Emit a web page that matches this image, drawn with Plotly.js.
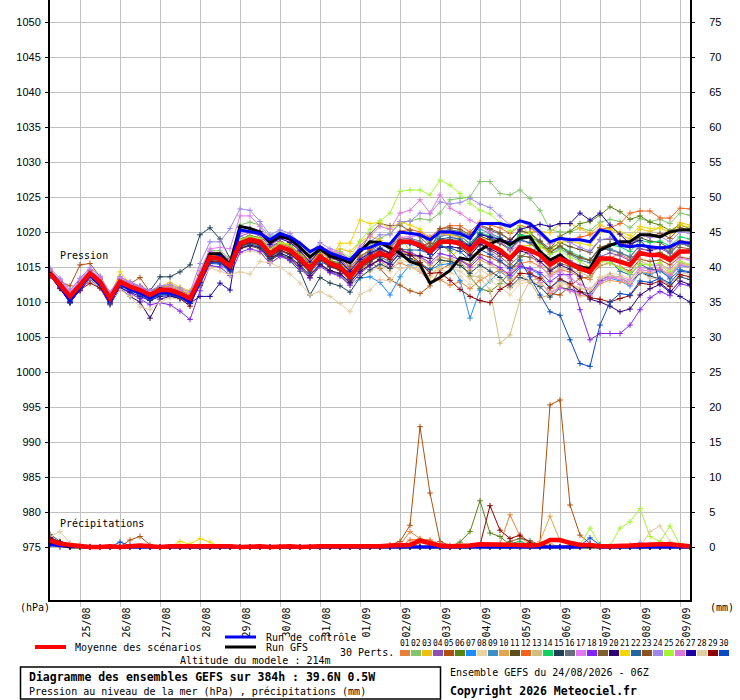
<!DOCTYPE html>
<html><head><meta charset="utf-8">
<script src="https://cdn.plot.ly/plotly-3.0.1.min.js"></script>
<style>html,body{margin:0;padding:0;background:#fff}#chart{width:740px;height:700px}</style>
</head><body><div id="chart"></div>
<script>
// ---------- DATA ----------
const hours = [0,6,12,18,24,30,36,42,48,54,60,66,72,78,84,90,96,102,108,114,120,126,132,138,144,150,156,162,168,174,180,186,192,198,204,210,216,222,228,234,240,246,252,258,264,270,276,282,288,294,300,306,312,318,324,330,336,342,348,354,360,366,372,378,384];
const dayTicks = [18,42,66,90,114,138,162,186,210,234,258,282,306,330,354,378];
const dayLabels = ['25/08','26/08','27/08','28/08','29/08','30/08','31/08','01/09','02/09','03/09','04/09','05/09','06/09','07/09','08/09','09/09'];
const pressureTicks = [975,980,985,990,995,1000,1005,1010,1015,1020,1025,1030,1035,1040,1045,1050];
const precipTicks = [0,5,10,15,20,25,30,35,40,45,50,55,60,65,70,75];
const memberLabels = ['01','02','03','04','05','06','07','08','09','10','11','12','13','14','15','16','17','18','19','20','21','22','23','24','25','26','27','28','29','30'];
const memberColors = ['#E8803A','#84C46A','#F0C010','#8E50B0','#B0500E','#5A8412','#1E8CFF','#EAD4A4','#3E90C0','#E4A650','#5E4E1E','#F2641E','#D2BE7E','#10D060','#204058','#64707C','#E478F4','#8424F4','#7E6030','#300070','#F2D800','#2464A0','#8E5220','#9E88F0','#A4F434','#DC78DC','#1C00A0','#E2CCA2','#900000','#0848C4'];

const pressMean = [1014.1,1012.5,1010.8,1012.4,1014.1,1012.9,1010.5,1012.9,1012.2,1011.7,1011.0,1011.7,1011.7,
1011.2,1010.5,1013.4,1016.4,1016.2,1015.1,1018.4,1018.9,1018.6,1016.9,1017.9,1017.4,1016.2,
1014.8,1016.5,1015.5,1015.0,1013.6,1015.3,1016.3,1017.0,1016.5,1018.6,1018.6,1018.1,1017.2,
1018.6,1018.6,1018.4,1017.4,1018.9,1018.1,1017.4,1016.2,1017.8,1017.4,1016.7,1015.3,1016.2,
1015.5,1014.8,1014.3,1016.2,1016.2,1015.8,1015.3,1017.0,1016.7,1016.7,1016.0,1017.2,1017.2];
const pressControl = [1014.0,1012.2,1010.2,1012.0,1013.8,1012.6,1010.0,1012.6,1011.8,1011.3,1010.6,1011.4,1011.3,
1010.9,1010.0,1013.0,1016.2,1016.5,1014.6,1020.3,1020.0,1019.8,1018.9,1019.8,1019.3,1018.4,
1017.2,1017.9,1017.0,1016.5,1016.0,1017.5,1017.8,1018.4,1018.3,1020.0,1019.8,1019.6,1018.9,
1020.0,1020.0,1019.8,1019.1,1021.2,1021.2,1021.2,1020.8,1021.6,1021.2,1020.0,1018.6,1019.1,
1018.9,1018.9,1018.6,1020.3,1020.0,1018.1,1017.9,1018.1,1017.9,1017.7,1017.9,1018.6,1018.4];
const pressGFS = [1014.2,1012.6,1010.7,1012.5,1014.0,1012.9,1010.3,1012.8,1012.0,1011.6,1010.7,1011.9,1011.5,
1011.0,1010.2,1013.6,1016.9,1016.9,1015.4,1020.8,1020.5,1020.0,1018.5,1019.4,1019.0,1017.8,
1016.4,1017.6,1016.6,1016.2,1015.6,1017.2,1018.6,1018.5,1017.7,1017.0,1015.8,1015.3,1012.7,
1013.5,1014.5,1016.3,1016.0,1017.4,1018.3,1018.9,1018.2,1019.1,1019.3,1017.2,1016.0,1016.7,
1015.5,1015.0,1014.8,1017.4,1018.1,1018.6,1018.6,1019.6,1019.6,1019.3,1020.0,1020.3,1020.3];

const p01 = [1014.4,1012.8,1011.1,1012.8,1014.4,1013.2,1010.9,1013.1,1012.6,1011.9,1011.3,1012.0,1012.1,
1011.6,1010.9,1013.9,1016.9,1016.8,1015.6,1018.9,1019.2,1018.8,1017.2,1018.1,1017.6,1016.7,
1015.1,1016.4,1015.2,1014.6,1013.0,1014.6,1015.4,1015.9,1014.8,1015.6,1015.0,1014.4,1012.8,
1013.2,1012.4,1012.9,1011.9,1013.1,1013.9,1014.6,1013.7,1015.5,1015.8,1015.1,1013.9,1014.6,
1014.3,1013.6,1013.2,1015.7,1016.3,1016.9,1016.0,1017.6,1017.4,1017.9,1017.2,1018.8,1018.6];
const p02 = [1014.5,1013.0,1011.3,1012.9,1014.6,1013.4,1011.0,1013.3,1012.6,1012.2,1011.5,1012.2,1012.3,
1011.8,1011.1,1014.3,1017.4,1017.3,1016.2,1021.0,1021.4,1021.0,1019.3,1020.0,1019.2,1018.0,
1016.5,1017.9,1017.1,1016.8,1015.7,1017.4,1018.3,1019.1,1019.8,1021.2,1021.6,1021.9,1021.7,
1022.7,1024.6,1024.8,1025.0,1027.2,1027.2,1025.5,1025.3,1026.0,1024.8,1023.1,1020.3,1020.0,
1020.0,1020.6,1020.2,1021.4,1021.8,1021.5,1020.6,1021.9,1021.5,1021.8,1021.2,1022.7,1022.4];
const p03 = [1013.8,1012.3,1010.6,1012.3,1013.9,1012.7,1010.4,1012.7,1012.4,1012.0,1011.3,1012.2,1012.8,
1012.1,1011.6,1013.9,1016.0,1015.8,1014.8,1018.0,1018.5,1018.0,1016.4,1017.5,1017.3,1016.4,
1015.4,1017.3,1016.8,1017.6,1017.2,1018.6,1019.4,1018.8,1017.9,1019.3,1017.3,1014.6,1013.6,
1015.4,1016.2,1017.8,1017.0,1018.9,1019.0,1018.6,1017.3,1019.5,1020.0,1020.1,1019.9,1021.2,
1021.2,1020.5,1019.8,1021.0,1020.4,1019.6,1019.0,1020.4,1020.1,1020.6,1019.8,1021.3,1021.0];
const p04 = [1014.6,1013.1,1011.3,1012.9,1014.4,1013.2,1010.8,1013.1,1012.5,1011.8,1011.2,1011.8,1011.9,
1011.5,1010.9,1013.5,1016.8,1016.6,1015.5,1019.4,1019.9,1019.5,1017.9,1018.6,1018.1,1016.9,
1015.6,1017.3,1016.4,1016.0,1014.9,1016.6,1017.3,1018.2,1017.6,1019.2,1019.0,1018.4,1017.8,
1019.8,1019.7,1019.4,1018.4,1019.9,1019.2,1018.5,1017.4,1018.8,1018.4,1017.3,1015.8,1016.8,
1015.9,1015.2,1014.8,1016.5,1017.0,1016.6,1015.9,1017.6,1017.3,1017.7,1016.9,1018.4,1018.0];
const p05 = [1014.0,1012.9,1012.3,1015.3,1015.5,1013.6,1011.0,1012.9,1012.6,1013.5,1011.4,1012.0,1012.3,
1011.8,1010.9,1013.6,1016.2,1015.8,1014.9,1017.9,1018.4,1017.9,1016.2,1017.3,1016.8,1015.9,
1014.6,1016.2,1015.3,1014.9,1013.4,1014.9,1015.7,1014.8,1013.2,1012.4,1011.6,1011.2,1012.3,
1014.6,1015.4,1016.0,1015.3,1016.8,1016.4,1015.7,1014.9,1015.3,1014.2,1012.8,1011.2,1011.0,
1012.3,1013.4,1013.6,1015.2,1015.6,1015.0,1014.4,1016.1,1015.8,1016.0,1015.3,1016.4,1016.2];
const p06 = [1013.9,1012.2,1010.4,1012.1,1013.8,1012.6,1010.2,1012.6,1011.8,1011.3,1010.6,1011.4,1011.3,
1010.8,1010.0,1013.0,1016.0,1015.9,1014.7,1018.1,1018.6,1018.3,1016.6,1017.6,1017.2,1016.1,
1014.8,1016.7,1015.9,1015.6,1014.4,1016.4,1017.5,1018.4,1017.7,1019.8,1019.9,1019.6,1018.4,
1018.2,1017.3,1015.8,1013.6,1011.9,1011.5,1012.6,1014.2,1016.4,1017.3,1017.8,1017.6,1019.4,
1020.1,1021.2,1021.5,1022.4,1023.6,1022.9,1021.8,1022.3,1021.4,1021.0,1020.2,1021.0,1020.5];
const p07 = [1013.7,1012.0,1009.8,1011.9,1013.5,1012.2,1009.8,1012.3,1011.6,1011.1,1010.3,1011.0,1011.0,
1010.5,1009.8,1012.8,1015.5,1015.4,1014.3,1017.6,1018.2,1017.8,1016.0,1017.0,1016.4,1015.3,
1013.8,1015.5,1014.3,1013.8,1012.4,1013.4,1013.6,1012.8,1011.0,1013.6,1015.3,1015.3,1014.6,
1015.3,1015.5,1013.1,1007.7,1011.7,1013.0,1014.4,1013.3,1014.9,1014.7,1013.9,1012.0,1013.1,
1012.6,1011.4,1010.6,1012.9,1013.4,1013.0,1012.3,1014.2,1014.0,1014.4,1013.6,1015.2,1015.0];
const p08 = [1013.8,1012.4,1010.9,1012.2,1013.7,1012.4,1010.3,1012.3,1011.0,1010.6,1010.3,1011.1,1011.2,
1010.6,1009.8,1012.6,1015.1,1015.0,1014.2,1016.9,1017.3,1017.0,1015.6,1016.5,1016.0,1015.0,
1013.6,1015.0,1014.1,1013.6,1012.3,1013.8,1014.3,1015.1,1014.3,1016.0,1015.6,1014.8,1013.6,
1014.6,1014.2,1013.7,1012.5,1013.8,1013.0,1012.2,1011.0,1012.6,1012.9,1012.6,1011.4,1012.6,
1012.4,1011.9,1011.6,1013.6,1014.1,1013.9,1013.3,1015.0,1014.6,1014.8,1014.1,1015.5,1015.2];
const p09 = [1014.2,1012.6,1010.9,1012.6,1014.3,1013.0,1010.7,1013.0,1012.3,1011.8,1011.1,1011.8,1011.8,
1011.3,1010.6,1013.8,1016.6,1016.4,1015.4,1019.0,1019.4,1019.1,1017.4,1018.5,1018.0,1016.8,
1015.4,1017.0,1016.2,1015.9,1014.5,1016.2,1017.2,1017.8,1017.0,1018.4,1018.6,1018.2,1017.4,
1019.4,1019.6,1019.6,1019.0,1020.4,1019.8,1019.2,1018.2,1019.6,1019.4,1018.4,1016.8,1017.6,
1016.8,1016.0,1015.6,1017.4,1017.6,1017.1,1016.5,1018.1,1017.7,1017.9,1017.1,1018.4,1018.0];
const p10 = [1013.9,1012.3,1010.5,1012.2,1013.9,1012.6,1010.1,1012.5,1011.7,1011.3,1010.4,1011.3,1011.2,
1010.6,1009.9,1012.9,1015.8,1015.7,1014.5,1017.8,1018.3,1018.0,1016.3,1017.2,1016.8,1015.6,
1014.2,1015.9,1015.0,1014.5,1013.1,1014.6,1015.4,1016.2,1015.4,1017.0,1016.9,1016.2,1015.2,
1016.4,1016.1,1015.7,1014.5,1016.0,1015.4,1014.5,1013.1,1014.1,1012.9,1010.6,1011.0,1012.3,
1011.6,1010.9,1010.8,1012.6,1013.1,1012.9,1012.6,1014.4,1014.1,1014.6,1013.9,1015.6,1015.3];
const p11 = [1014.0,1012.4,1010.6,1012.3,1014.0,1012.8,1010.3,1012.8,1012.1,1011.6,1010.9,1011.5,1011.5,
1011.0,1010.3,1013.1,1016.0,1015.8,1014.7,1017.6,1018.0,1017.6,1015.9,1016.8,1016.2,1015.0,
1013.5,1015.3,1014.4,1014.0,1012.7,1014.6,1015.8,1016.6,1016.2,1018.4,1018.6,1018.2,1017.3,
1018.8,1018.9,1018.8,1017.9,1019.4,1018.9,1018.4,1017.5,1019.3,1019.2,1018.7,1017.6,1018.5,
1017.9,1017.5,1017.1,1018.9,1019.0,1018.6,1017.9,1019.2,1018.7,1018.5,1017.6,1018.6,1018.3];
const p12 = [1014.3,1012.7,1011.0,1012.6,1014.2,1013.1,1010.7,1013.1,1012.4,1011.9,1011.2,1011.9,1011.9,
1011.4,1010.7,1013.6,1016.5,1016.4,1015.3,1018.8,1019.2,1018.9,1017.3,1018.3,1017.9,1016.8,
1015.4,1017.1,1016.3,1015.9,1014.6,1016.4,1017.5,1018.4,1018.0,1020.1,1020.4,1020.0,1019.3,
1020.4,1020.9,1020.9,1020.0,1021.4,1021.0,1020.6,1019.8,1020.9,1020.6,1019.6,1018.3,1019.1,
1018.9,1019.3,1019.6,1020.4,1020.6,1021.2,1022.7,1023.0,1023.0,1022.0,1022.0,1023.4,1023.3];
const p13 = [1014.0,1012.5,1010.9,1012.3,1013.9,1012.8,1010.6,1012.8,1012.1,1011.5,1010.8,1011.5,1011.6,
1011.1,1010.4,1013.2,1016.1,1015.9,1014.9,1018.1,1018.6,1018.3,1016.7,1017.6,1017.1,1016.0,
1014.7,1016.3,1015.4,1015.1,1013.8,1015.5,1016.3,1016.8,1016.0,1017.3,1017.0,1016.4,1015.3,
1016.5,1016.1,1015.3,1013.8,1013.5,1011.7,1004.1,1005.3,1010.3,1013.1,1013.3,1014.1,1014.8,
1014.6,1014.2,1013.6,1015.3,1015.5,1015.0,1014.2,1015.8,1015.3,1015.2,1014.2,1015.6,1015.0];
const p14 = [1013.9,1012.1,1010.2,1012.0,1013.8,1012.6,1010.1,1012.4,1011.8,1011.3,1010.6,1011.3,1011.3,
1010.8,1010.1,1013.1,1016.2,1016.0,1014.9,1018.3,1018.7,1018.4,1016.9,1017.8,1017.3,1016.1,
1014.9,1016.6,1015.7,1015.3,1014.0,1015.8,1016.9,1017.6,1016.9,1018.2,1018.5,1018.1,1017.6,
1019.8,1020.0,1019.6,1018.2,1019.9,1019.5,1019.0,1018.0,1019.6,1019.3,1018.6,1017.2,1018.0,
1017.2,1016.5,1016.0,1017.8,1018.2,1017.9,1017.2,1018.8,1018.5,1018.7,1018.0,1019.3,1019.0];
const p15 = [1014.0,1012.6,1011.2,1012.8,1014.0,1012.9,1010.9,1012.8,1012.4,1012.1,1011.6,1013.6,1013.6,
1014.3,1015.3,1019.6,1020.6,1019.0,1016.2,1018.6,1018.7,1018.2,1016.2,1016.8,1015.9,1014.4,
1011.0,1013.5,1012.7,1012.3,1011.4,1013.5,1014.6,1015.4,1014.8,1016.5,1016.2,1015.6,1014.6,
1016.0,1015.8,1015.2,1014.1,1015.3,1014.4,1013.5,1012.1,1013.5,1013.0,1012.2,1010.7,1012.0,
1011.8,1011.4,1011.2,1013.1,1013.8,1013.5,1012.7,1014.2,1013.7,1013.3,1012.4,1013.6,1013.2];
const p16 = [1014.1,1012.4,1010.6,1012.3,1014.0,1012.8,1010.4,1012.8,1012.0,1011.6,1010.9,1011.6,1011.6,
1011.1,1010.4,1013.3,1016.3,1016.1,1015.0,1018.5,1019.0,1018.7,1017.1,1018.0,1017.5,1016.4,
1015.0,1016.7,1015.8,1015.3,1013.9,1015.7,1016.8,1017.6,1017.0,1018.9,1019.1,1018.7,1017.6,
1020.2,1020.3,1020.1,1019.4,1020.8,1020.3,1019.7,1018.9,1020.1,1019.9,1018.7,1017.1,1017.9,
1017.0,1016.3,1015.9,1017.7,1017.4,1017.0,1016.4,1018.1,1017.7,1017.9,1017.1,1018.3,1018.0];
const p17 = [1014.6,1013.2,1011.6,1013.3,1014.6,1013.5,1011.2,1013.6,1012.9,1012.3,1011.6,1012.3,1012.3,
1011.8,1011.1,1014.5,1017.6,1017.8,1017.6,1022.3,1022.3,1020.8,1018.8,1019.4,1018.7,1017.4,
1015.8,1017.4,1016.5,1016.0,1014.4,1016.0,1016.8,1017.4,1017.0,1019.2,1019.3,1019.5,1018.9,
1019.7,1019.5,1018.9,1017.6,1018.6,1017.2,1016.0,1014.3,1015.2,1014.5,1012.8,1011.4,1012.0,
1011.6,1011.2,1010.9,1012.8,1013.4,1013.6,1013.1,1014.9,1014.8,1015.4,1014.7,1016.2,1016.0];
const p18 = [1013.8,1012.0,1010.0,1011.9,1013.6,1012.3,1009.9,1012.0,1011.3,1010.5,1009.6,1009.9,1009.6,
1008.7,1007.5,1011.6,1015.2,1015.0,1013.8,1017.1,1017.6,1017.2,1015.5,1016.5,1016.0,1014.8,
1013.4,1015.1,1014.2,1013.7,1012.4,1014.1,1015.2,1016.0,1015.3,1017.2,1017.1,1016.5,1015.6,
1016.9,1016.6,1016.0,1015.0,1016.4,1015.7,1014.9,1013.8,1015.1,1014.8,1014.2,1012.9,1013.9,
1013.9,1008.9,1004.6,1005.5,1005.5,1005.5,1006.7,1008.9,1010.6,1011.5,1010.9,1012.6,1012.3];
const p19 = [1014.2,1012.7,1011.0,1012.6,1014.2,1013.0,1010.6,1013.0,1012.3,1011.9,1011.2,1011.9,1011.9,
1011.5,1010.8,1013.8,1016.8,1016.6,1015.5,1019.0,1019.5,1019.2,1017.6,1018.6,1018.1,1017.0,
1015.6,1017.4,1016.6,1016.3,1015.1,1017.3,1019.7,1021.2,1020.9,1021.0,1020.2,1019.3,1017.9,
1019.0,1018.6,1018.1,1016.8,1018.2,1017.4,1016.5,1015.3,1016.6,1016.4,1015.8,1014.6,1015.5,
1015.1,1014.5,1014.1,1015.8,1016.0,1015.9,1015.3,1017.0,1016.8,1017.1,1016.4,1017.8,1017.6];
const p20 = [1013.7,1012.0,1010.0,1011.6,1013.3,1012.0,1009.6,1011.9,1010.8,1010.0,1007.7,1010.4,1010.8,
1010.5,1009.9,1012.4,1015.6,1015.6,1014.6,1017.7,1018.1,1017.8,1016.2,1017.0,1016.4,1015.2,
1013.8,1015.4,1014.5,1014.1,1012.8,1014.4,1015.3,1016.1,1015.4,1017.0,1016.6,1016.6,1016.2,
1017.8,1017.9,1017.7,1016.6,1018.3,1017.6,1016.9,1015.9,1017.3,1016.9,1015.8,1014.4,1015.3,
1014.7,1013.7,1010.4,1010.0,1009.4,1008.6,1009.0,1011.0,1011.9,1012.5,1011.4,1013.0,1012.5];
const p21 = [1014.2,1012.6,1011.0,1012.5,1014.3,1013.0,1010.6,1014.3,1012.6,1012.0,1011.4,1012.0,1012.3,
1011.8,1011.2,1013.7,1016.6,1016.4,1015.3,1018.7,1019.1,1018.8,1017.2,1018.3,1018.4,1018.0,
1015.5,1017.2,1016.0,1018.4,1018.4,1021.7,1021.2,1021.4,1020.4,1021.4,1021.0,1020.4,1019.0,
1019.8,1019.6,1019.2,1017.8,1019.0,1018.4,1017.6,1016.6,1018.0,1018.1,1017.9,1017.2,1018.6,
1018.6,1018.4,1018.1,1020.0,1020.4,1020.0,1019.5,1020.8,1020.5,1020.6,1019.9,1021.0,1020.7];
const p22 = [1013.9,1012.2,1010.4,1012.0,1013.8,1012.6,1010.2,1012.6,1011.9,1011.4,1010.7,1011.4,1011.4,
1010.9,1010.2,1013.2,1016.1,1015.9,1014.8,1017.9,1018.3,1018.0,1016.3,1017.3,1016.8,1015.7,
1014.2,1015.9,1015.0,1014.6,1013.2,1014.9,1015.9,1016.5,1015.7,1017.5,1017.4,1017.4,1016.9,
1019.0,1019.2,1019.0,1018.0,1019.8,1019.2,1018.6,1017.6,1018.9,1018.5,1017.1,1015.6,1016.6,
1015.6,1015.0,1014.8,1016.4,1015.9,1014.4,1013.9,1015.4,1014.7,1014.6,1013.3,1014.6,1014.3];
const p23 = [1014.4,1012.9,1011.3,1012.8,1014.5,1013.3,1010.9,1013.3,1012.7,1012.2,1011.5,1012.1,1012.1,
1011.6,1010.9,1013.8,1016.6,1016.3,1015.2,1018.6,1019.1,1018.8,1017.1,1018.1,1017.5,1016.3,
1014.9,1016.7,1015.8,1015.4,1014.1,1015.8,1016.8,1017.5,1016.9,1018.8,1018.6,1018.0,1018.4,
1020.5,1020.6,1020.4,1019.6,1021.0,1020.5,1019.9,1018.9,1020.2,1019.8,1018.6,1017.1,1018.0,
1016.9,1016.3,1016.0,1017.8,1018.3,1018.4,1017.8,1019.6,1019.4,1019.8,1019.1,1020.6,1020.3];
const p24 = [1014.8,1013.4,1011.7,1013.4,1014.9,1013.7,1011.4,1013.6,1012.8,1012.3,1011.6,1012.3,1012.5,
1012.0,1011.4,1015.5,1018.6,1018.6,1020.5,1023.3,1023.1,1021.5,1019.6,1020.3,1019.8,1018.4,
1017.0,1018.5,1017.6,1017.2,1016.0,1017.7,1018.7,1019.6,1019.6,1021.5,1021.5,1022.7,1022.6,
1024.3,1024.0,1024.2,1024.8,1024.0,1023.5,1022.3,1021.0,1021.6,1020.8,1019.6,1018.4,1019.0,
1018.5,1017.8,1017.3,1018.9,1019.1,1018.7,1018.0,1019.6,1019.2,1019.4,1018.6,1020.0,1019.8];
const p25 = [1014.1,1012.6,1010.9,1012.6,1014.2,1013.0,1010.6,1013.0,1012.3,1011.8,1011.2,1011.8,1011.9,
1011.4,1010.7,1013.6,1016.6,1016.5,1015.4,1018.9,1019.4,1019.1,1017.5,1018.5,1018.1,1017.0,
1015.7,1017.6,1017.0,1017.2,1016.4,1018.7,1020.4,1021.6,1022.7,1025.8,1026.0,1026.0,1025.3,
1027.4,1026.7,1025.5,1024.1,1023.1,1022.6,1021.3,1020.1,1020.8,1019.8,1018.0,1016.8,1017.4,
1016.4,1015.8,1014.9,1015.9,1015.6,1014.8,1014.0,1015.4,1015.3,1015.6,1014.4,1015.8,1015.4];
const p26 = [1014.5,1013.0,1011.4,1013.0,1014.6,1013.4,1011.1,1013.4,1012.6,1012.1,1011.4,1012.0,1012.1,
1011.6,1010.9,1014.0,1017.2,1017.0,1016.1,1019.8,1020.0,1019.7,1018.0,1019.0,1018.6,1017.5,
1016.2,1017.9,1017.3,1017.0,1016.1,1018.0,1019.4,1020.8,1020.4,1022.7,1023.1,1024.6,1022.7,
1025.3,1023.4,1022.7,1021.7,1021.0,1019.9,1018.7,1017.4,1018.1,1016.8,1015.2,1013.6,1014.4,
1013.4,1012.5,1011.8,1013.2,1013.6,1013.2,1012.6,1014.6,1014.4,1014.7,1013.8,1015.3,1015.0];
const p27 = [1013.7,1012.0,1009.9,1011.8,1013.5,1012.3,1009.8,1012.1,1011.4,1010.8,1010.2,1010.8,1010.9,
1010.5,1009.8,1010.8,1010.8,1012.7,1011.7,1020.7,1020.5,1020.1,1018.2,1019.1,1018.5,1017.3,
1015.7,1017.4,1016.4,1015.9,1014.4,1016.1,1017.0,1017.6,1017.0,1018.6,1018.4,1017.8,1016.8,
1018.4,1018.5,1018.6,1018.0,1019.6,1019.3,1019.0,1018.6,1020.4,1020.8,1021.1,1020.8,1021.2,
1021.2,1022.7,1021.7,1022.7,1021.0,1019.7,1018.3,1018.8,1017.4,1012.7,1011.6,1010.8,1010.0];
const p28 = [1013.6,1012.1,1010.4,1011.8,1013.4,1012.0,1009.9,1011.8,1010.8,1009.3,1008.9,1010.0,1010.6,
1010.4,1010.0,1012.6,1014.9,1014.4,1013.9,1014.3,1014.0,1015.8,1015.6,1015.0,1014.0,1012.7,
1011.0,1011.5,1010.8,1009.8,1008.6,1011.1,1011.7,1013.2,1013.0,1014.8,1015.0,1014.5,1013.7,
1015.0,1014.9,1014.4,1013.3,1014.6,1013.8,1013.0,1011.9,1013.1,1013.0,1012.6,1011.6,1012.8,
1012.6,1012.0,1011.8,1013.5,1013.8,1013.5,1012.8,1014.3,1013.4,1013.3,1012.4,1014.2,1013.9];
const p29 = [1013.9,1011.9,1010.0,1011.7,1012.7,1012.0,1010.0,1012.4,1011.8,1011.2,1010.4,1011.1,1011.2,
1010.5,1009.4,1012.8,1015.8,1015.7,1014.6,1018.0,1018.5,1018.2,1016.5,1017.4,1016.9,1015.7,
1014.4,1016.1,1015.1,1014.6,1013.3,1015.0,1016.0,1016.7,1016.1,1017.6,1016.8,1015.6,1014.1,
1014.2,1013.1,1011.8,1010.8,1010.2,1009.9,1011.8,1012.6,1014.1,1014.0,1013.4,1012.0,1013.3,
1012.6,1011.5,1010.6,1010.4,1010.0,1010.5,1010.9,1012.7,1012.5,1013.0,1012.2,1013.9,1013.6];
const p30 = [1013.8,1012.1,1010.1,1011.9,1013.7,1012.4,1009.9,1012.4,1011.7,1011.1,1010.3,1011.1,1011.1,
1010.6,1009.8,1012.6,1015.6,1015.6,1014.4,1018.2,1018.7,1018.4,1016.7,1017.7,1017.2,1016.0,
1014.6,1016.3,1015.4,1014.9,1013.5,1015.2,1016.4,1017.2,1016.6,1018.4,1018.3,1017.8,1016.8,
1018.0,1017.7,1017.2,1016.0,1017.5,1016.8,1015.9,1014.8,1016.0,1013.6,1011.0,1008.6,1008.1,
1004.6,1001.2,1000.8,1006.7,1010.0,1011.2,1011.0,1013.0,1012.8,1013.4,1012.7,1014.4,1014.2];

const rainMean = [0.9,0.5,0.3,0.1,0,0,0.1,0,0.1,0.2,0.1,0,0.1,
0.1,0.1,0.2,0.1,0.1,0.1,0,0.1,0.1,0,0.1,0.1,0,
0.1,0.1,0.1,0.1,0,0,0.1,0.1,0.2,0.3,0.3,0.9,0.6,
0.2,0.1,0.1,0.2,0.4,0.4,0.3,0.4,0.3,0.2,0.3,1.0,1.0,
0.6,0.3,0.3,0.1,0.1,0.1,0.2,0.3,0.4,0.4,0.4,0.2,0.1];
const rainControl = [0.3,0.2,0.1,0,0,0,0,0,0,0,0,0,0, 0,0,0,0,0,0,0,0,0,0,0,0,0, 0,0,0,0,0,0,0,0,0,0,0,0,0, 0,0,0,0,0,0,0,0,0,0,0,0,0, 0,0,0.2,0,0,0,0,0,0,0,0,0,0];
const rainGFS = [0.5,0.2,0,0,0,0,0,0,0,0,0,0,0, 0,0,0,0,0,0,0,0,0,0,0,0,0, 0,0,0,0,0,0,0,0,0,0,0,0,0, 0,0,0,0,0,0,0,0,0,0,0,0,0, 0,0,0,0,0,0,0,0,0,0,0,0,0];
const r01 = [1.2,0.7,0.5,0.3,0.1,0,0,0,0,0,0,0,0, 0,0,0,0,0,0,0,0,0,0,0,0,0, 0,0,0,0,0,0,0,0,0,0.3,2.2,1.2,0.8, 0.2,0,0,0,0,0,0.5,4.6,1.5,0.3,0,0,0, 0,0,0,0,0,0,0,0,0,0,0,0,0];
const r02 = [0.5,0.2,0,0,0,0,0,0,0,0,0,0,0, 0,0,0,0,0,0,0,0,0,0,0,0,0, 0,0,0,0,0,0,0,0,0,0,0,0,0, 0,0,0,0,0,0,0,0,0,0,0,0,0, 0,0,0,0.2,0.1,0,0,0,0,0,0,0,0];
const r03 = [0.6,0.3,0.1,0,0,0,0,0,0,0,0,0,0, 0,0,0.3,0,0,0,0,0,0,0,0,0,0, 0,0,0,0,0,0,0,0,0,0,0,0,0, 0,0,0,0,0,0,0,0,0,0,0,0,0, 0,0,0,0,0,0,0,0,0,0,0,0,0];
const r04 = [0.3,0.1,0,0,0,0,0,0,0,0,0,0,0, 0,0,0,0,0,0,0,0,0,0,0,0,0, 0,0,0,0,0,0,0,0,0,0,0,0,0, 0,0,0,0,0,0,0,0,0,0,0,0,0, 0,0,0,0,0,0,0,0,0,0,0,0,0];
const r05 = [0.4,0.2,0,0,0,0,0,0,1.0,1.5,0.3,0,0, 0,0,0,0,0,0,0,0,0,0,0,0,0, 0,0,0,0,0,0,0,0,0.3,0.8,3.1,17.2,7.7, 0.8,0.2,0,0,0,0,0,0,0,0,0.5,20.3,21.0, 6.0,1.7,0.5,0,0,0,0,0,0,0,0,0,0];
const r06 = [0.8,0.4,0,0,0,0,0,0,0,0,0,0,0, 0,0,0,0,0,0,0,0,0,0,0,0,0, 0,0,0,0,0,0,0,0,0,0,0,0,0, 0,0,0.7,2.2,6.6,2.0,1.5,0.3,0,0,0,0,0, 0,0,0,0,0,0,0,0,0,0,0,0,0];
const r07 = [0.7,0.3,0,0,0,0,0,0,0,0,0,0,0, 0,0,0,0,0,0,0,0,0,0,0,0,0, 0,0,0,0,0,0,0,0,0,0,0,0,0, 0,0,0,0,0,0,0,0,0,0,0,0,0, 0,0,0,0,0,0,0,0,0,0,0,0,0];
const r08 = [1.0,0.5,0,0,0,0,0,0,0,0,0,0,0, 0,0,0,0,0,0,0,0,0,0,0,0,0, 0,0,0,0,0,0,0,0,0,0,0,0,0, 0,0,0,0,0,0,0,0,0,0,0,0,0, 0,0,0,0,0,0,0,0,0,0,0,0,0];
const r09 = [0.5,0.2,0,0,0,0,0,0,0,0,0,0,0, 0,0,0,0,0,0,0,0,0,0,0,0,0, 0,0,0,0,0,0,0,0,0,0,0,0,0, 0,0,0,0,0,0,0,0,0.3,0,0,0,0, 0,0,0,0,0,0,0,0,0,0,0,0,0];
const r10 = [0.9,0.4,0,0,0,0,0,0,0,0,0,0,0, 0,0,0,0,0,0,0,0,0,0,0,0,0, 0,0,0,0,0,0,0,0,0,0,0,0,0, 0,0,0,0,0,0,0,0,0,0,0.8,4.4,0.9, 0.3,0,0,0,0,0,0,0,0,0,0,0,0];
const r11 = [1.8,0.8,0.2,0,0,0,0,0,0,0,0,0,0, 0,0,0,0,0,0,0,0,0,0,0,0,0, 0,0,0,0,0,0,0,0,0,0,0,0,0, 0,0,0,0,0,0,0,0,0,0,0,0,0, 0,0,0,0,0,0,0,0,0,0,0,0,0];
const r12 = [0.6,0.3,0,0,0,0,0,0,0,0,0,0,0, 0,0,0,0,0,0,0,0,0,0,0,0,0, 0,0,0,0,0,0,0,0,0,0,1.0,1.1,1.0, 0.4,0,0,0,0,0,0,0,0,0,0,0,0, 0,0,0,0,0,0,0,0,0,0,0,0,0];
const r13 = [0.4,0,0,0,0,0,0,0,0,0,0,0,0, 0,0,0,0,0,0,0,0,0,0,0,0,0, 0,0,0,0,0,0,0,0,0,0,0,0,0, 0,0,0,0,0,0,0,0,0,0,0,0.5,0, 0,0,0,0,0,0,0,0,0,0,0,0,0];
const r14 = [0.6,0.2,0,0,0,0,0,0,0,0,0,0,0, 0,0,0,0,0,0,0,0,0,0,0,0,0, 0,0,0,0,0,0,0,0,0,0,0,0,0, 0,0,0,0,0,0,0,0.5,0.8,0.3,0,0,0, 0,0,0,0,0,0,0,0,0,0,0,0,0];
const r15 = [0.9,0.5,0,0,0,0,0,0,0,0,0,0,0, 0,0,0,0,0,0,0,0,0,0,0,0,0, 0,0,0,0,0,0,0,0,0,0,0,0,0, 0,0,0,0,0,0,0,0,0,0,0,0,0, 0,0,0,0,0,0,0,0,0,0,0,0,0];
const r16 = [0.5,0,0,0,0,0,0,0,0,0,0,0,0, 0,0,0,0,0,0,0,0,0,0,0,0,0, 0,0,0,0,0,0,0,0,0,0,0,0,0, 0,0,0,0,0,0,0,0,0,0,0,0,0, 0,0,0,0,0,0,0,0,0,0,0,0,0];
const r17 = [0.4,0.2,0,0,0,0,0,0,0,0,0,0,0, 0,0,0,0,0,0,0,0,0,0,0,0,0, 0,0,0,0,0,0,0,0,0,0,0,0,0, 0,0,0,0,0,0,0,0,0,0,0,0,0, 0,0,0,0,0,0,0,0,0,0,0,0,0];
const r18 = [0.7,0.3,0,0,0,0,0,0,0,0,0,0,0, 0,0,0,0,0,0,0,0,0,0,0,0,0, 0,0,0,0,0,0,0,0,0,0,0,0,0, 0,0,0,0,0,0,0,0,0,0,0,0,0, 0,0.3,0.5,0,0,0,0,0,0,0,0,0,0];
const r19 = [1.1,0.5,0,0,0,0,0,0,0,0,0,0,0, 0,0,0,0,0,0,0,0,0,0,0,0,0, 0,0,0,0,0,0,0,0,0,0,0,0,0, 0,0,0,0,0,0,0,0.8,1.2,0.9,0.3,0,0, 0,0,0,0,0,0,0,0,0,0,0,0,0];
const r20 = [1.4,0.6,0,0,0,0,0,0,0,0,0,0,0, 0,0,0,0,0,0,0,0,0,0,0,0,0, 0,0,0,0,0,0,0,0,0,0,0,0,0, 0,0,0,0,0,0,0,0,0,0,0,0,0, 0,0,0,0,0,0,0,0,0,0,0,0,0];
const r21 = [0.5,0,0,0,0,0,0,0,0,0,0,0,0, 0.8,0.4,1.2,0.7,0,0,0,0,0,0,0,0,0, 0,0,0,0,0,0,0,0,0,0,0,0,0, 0,0,0,0,0,0,0,0,0,0,0,0,0, 0,0,0,0,0,0,0,0,0,0,0,0,0];
const r22 = [0.6,0,0,0,0,0,0,0,0,0,0,0,0, 0,0,0,0,0,0,0,0,0,0,0,0,0, 0,0,0,0,0,0,0,0,0,0,0,0,0, 0,0,0,0,0,0,0,0,0,0,0,0,0, 0,0,0,0,0,0,0,0,0,0,0,0,0];
const r23 = [0.8,0.3,0,0,0,0,0,0,0,0,0,0,0, 0,0,0,0,0,0,0,0,0,0,0,0,0, 0,0,0,0,0,0,0,0,0,0,0,0.7,0.5, 0,0,0,0,0,0,0,0,0,0,0,0,0, 0,0,0,0,0,0,0,0,0,0,0,0,0];
const r24 = [0.5,0,0,0,0,0,0,0,0,0,0,0,0, 0,0,0,0,0,0,0,0,0,0,0,0,0, 0,0,0,0,0,0,0,0,0,0,0,0,0, 0,0,0,0,0,0,0,0,0,0,0,0,0, 0,0,0,0,0,0,0.3,0.6,0.4,0,0,0,0];
const r25 = [0.3,0,0,0,0,0,0,0,0,0,0,0,0, 0,0,0,0,0,0,0,0,0,0,0,0,0, 0,0,0,0,0,0,0,0,0,0,0,0,0, 0,0,0,0,0,0,0,0,0,0,0,0,0, 0,0.3,2.7,0.3,0.2,2.7,3.6,5.5,1.5,0.8,3.0,0.3,0];
const r26 = [0.4,0,0,0,0,0,0,0,0,0,0,0,0, 0,0,0,0,0,0,0,0,0,0,0,0,0, 0,0,0,0,0,0,0,0,0,0,0,0,0, 0,0,0,0,0,0,0,0,0,0,0,0,0, 0,0,0,0,0,0,0,0,0,0,0,0,0];
const r27 = [1.4,0.7,0,0,0,0,0,0,0,0,0,0,0, 0,0,0,0,0,0,0,0,0,0,0,0,0, 0,0,0,0,0,0,0,0,0,0,0,0,0, 0,0,0,0,0,0,0,0,0,0,0,0,0, 0,0,0,0,0,0,0,0,0,0.3,0,0,0];
const r28 = [1.5,2.2,0.6,0,0,0,0,0,0,0,0,0,0, 0,0,0,0,0,0,0,0,0,0,0,0,0, 0,0,0,0,0,0,0,0,0,0,0,0,0, 0,0,0,0,0,0,0,0,0,0,0,0,0, 0,0,0,0,0,0,0,0,2.2,3.0,0.8,0.3,0];
const r29 = [1.2,0.5,0,0,0,0,0,0,0,0,0,0,0, 0,0,0,0,0,0,0,0,0,0,0,0,0, 0,0,0,0,0,0,0,0,0,0,0,0,0, 0,0,0,0,0.3,5.9,2.4,1.2,1.7,0.6,0.2,0,0, 0,0,0,0,0,0,0,0,0,0,0,0,0];
const r30 = [0.4,0.2,0,0,0,0,0,0.7,0.2,0,0,0,0, 0,0,0,0,0,0,0,0,0,0,0,0,0, 0,0,0,0,0,0,0,0,0,0,0,0,0, 0,0,0,0,0,0,0,0,0,0,0,0,0, 0,0.2,1.3,0.3,0,0,0,0,0,0,0,0,0];

const pressPerts = [p01,p02,p03,p04,p05,p06,p07,p08,p09,p10,p11,p12,p13,p14,p15,p16,p17,p18,p19,p20,p21,p22,p23,p24,p25,p26,p27,p28,p29,p30];
const rainPerts = [r01,r02,r03,r04,r05,r06,r07,r08,r09,r10,r11,r12,r13,r14,r15,r16,r17,r18,r19,r20,r21,r22,r23,r24,r25,r26,r27,r28,r29,r30];

// ---------- CHART ----------
const W = 740, H = 700, ML = 50, MR = 50, MT = 0, MB = 100;
const PW = W - ML - MR, PH = H - MT - MB;
const px = x => (x - ML) / PW;          // pixel -> paper x
const py = y => (H - MB - y) / PH;       // pixel -> paper y
const MONO = 'DejaVu Sans Mono, monospace';

const traces = [];
pressPerts.forEach((arr, k) => {
  traces.push({x: hours, y: arr, type: 'scatter', mode: 'lines+markers', yaxis: 'y',
    line: {color: memberColors[k], width: 1},
    marker: {symbol: 'cross-thin', size: 4, line: {width: 1, color: memberColors[k]}, color: memberColors[k]}});
});
traces.push({x: hours, y: pressGFS, type: 'scatter', mode: 'lines', line: {color: '#000000', width: 3}});
traces.push({x: hours, y: pressControl, type: 'scatter', mode: 'lines', line: {color: '#0000FF', width: 3}});
traces.push({x: hours, y: pressMean, type: 'scatter', mode: 'lines', line: {color: '#FF0000', width: 4.5}});
rainPerts.forEach((arr, k) => {
  traces.push({x: hours, y: arr, type: 'scatter', mode: 'lines+markers', yaxis: 'y2',
    line: {color: memberColors[k], width: 1},
    marker: {symbol: 'cross-thin', size: 4, line: {width: 1, color: memberColors[k]}, color: memberColors[k]}});
});
traces.push({x: hours, y: rainGFS, yaxis: 'y2', type: 'scatter', mode: 'lines', line: {color: '#000000', width: 3}});
traces.push({x: hours, y: rainControl, yaxis: 'y2', type: 'scatter', mode: 'lines', line: {color: '#0000FF', width: 3}});
traces.push({x: hours, y: rainMean, yaxis: 'y2', type: 'scatter', mode: 'lines', line: {color: '#FF0000', width: 4.5}});

const ann = (x, y, text, opts = {}) => Object.assign({xref: 'paper', yref: 'paper', x: px(x), y: py(y), text: text,
  showarrow: false, xanchor: 'left', yanchor: 'middle', font: {family: MONO, size: 10, color: '#000'}, borderpad: 0}, opts);

const annotations = [
  ann(59, 255, 'Pression'),
  ann(59, 523, 'Précipitations'),
  ann(19, 607, '(hPa)'),
  ann(709, 607, '(mm)'),
  ann(74, 647, 'Moyenne des scénarios'),
  ann(265, 637, 'Run de contrôle'),
  ann(265, 647, 'Run GFS'),
  ann(339, 652, '30 Perts.'),
  ann(179, 660, 'Altitude du modele : 214m'),
  ann(28, 677, '<b>Diagramme des ensembles GEFS sur 384h : 39.6N 0.5W</b>', {font: {family: MONO, size: 11.5, color: '#000'}}),
  ann(28, 691, 'Pression au niveau de la mer (hPa) , précipitations (mm)'),
  ann(449, 672, 'Ensemble GEFS du 24/08/2026 - 06Z'),
  ann(449, 691, '<b>Copyright 2026 Meteociel.fr</b>', {font: {family: MONO, size: 11.5, color: '#000'}})
];
memberLabels.forEach((lab, k) => {
  annotations.push(ann(400 + 11 * k + 5, 643, lab, {xanchor: 'center', font: {family: MONO, size: 8, color: '#000'}}));
});

const shp = (x0, y0, x1, y1, o) => Object.assign({xref: 'paper', yref: 'paper', x0: px(x0), y0: py(y0), x1: px(x1), y1: py(y1)}, o);
const shapes = [
  shp(35, 647, 66, 647, {type: 'line', line: {color: '#FF0000', width: 4}}),
  shp(225, 637, 256, 637, {type: 'line', line: {color: '#0000FF', width: 3}}),
  shp(225, 647, 256, 647, {type: 'line', line: {color: '#000000', width: 3}}),
  shp(20.5, 667, 440.5, 699, {type: 'rect', line: {color: '#000', width: 1.5}})
];
memberColors.forEach((c, k) => {
  shapes.push(shp(400 + 11 * k, 650, 400 + 11 * k + 10, 656, {type: 'rect', fillcolor: c, line: {width: 0}}));
});

const layout = {
  width: W, height: H,
  margin: {l: ML, r: MR, t: MT, b: MB, pad: 0},
  paper_bgcolor: '#ffffff', plot_bgcolor: '#ffffff',
  showlegend: false, hovermode: false,
  font: {family: MONO, size: 10, color: '#000'},
  xaxis: {range: [0, 384], tickmode: 'array', tickvals: dayTicks, ticktext: dayLabels, tickangle: -90,
    showgrid: true, gridcolor: '#C0C0C0', gridwidth: 1, ticks: 'outside', ticklen: 5, tickcolor: '#C0C0C0',
    showline: true, linecolor: '#000', linewidth: 1.5, zeroline: false, ticklabelshift: 7, ticklabelstandoff: -3,
    tickfont: {family: MONO, size: 10, color: '#000'}, fixedrange: true},
  yaxis: {range: [967.429, 1053.143], tickmode: 'array', tickvals: pressureTicks, ticktext: pressureTicks.map(String),
    showgrid: true, gridcolor: '#C0C0C0', gridwidth: 1, ticks: 'outside', ticklen: 3, tickcolor: '#000',
    showline: true, linecolor: '#000', linewidth: 2, zeroline: false, ticklabelstandoff: 2,
    tickfont: {family: 'Liberation Sans, sans-serif', size: 11, color: '#000'}, fixedrange: true},
  yaxis2: {overlaying: 'y', side: 'right', range: [-7.571, 78.143], tickmode: 'array', tickvals: precipTicks, ticktext: precipTicks.map(String),
    showgrid: false, ticks: 'outside', ticklen: 3, tickcolor: '#000',
    showline: true, linecolor: '#000', linewidth: 2, zeroline: false, ticklabelstandoff: 12,
    tickfont: {family: 'Liberation Sans, sans-serif', size: 11, color: '#000'}, fixedrange: true},
  annotations: annotations,
  shapes: shapes
};

Plotly.newPlot('chart', traces, layout, {staticPlot: true, displayModeBar: false});
</script>
</body></html>
